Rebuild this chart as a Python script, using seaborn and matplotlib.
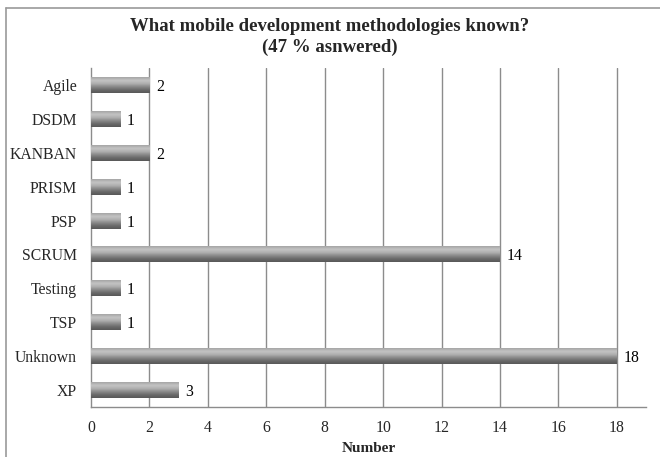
import numpy as np
import pandas as pd
import matplotlib
matplotlib.use("Agg")
import matplotlib.pyplot as plt
from matplotlib.colors import LinearSegmentedColormap
from matplotlib.lines import Line2D
import seaborn as sns

methods = ["Agile", "DSDM", "KANBAN", "PRISM", "PSP", "SCRUM",
           "Testing", "TSP", "Unknown", "XP"]
counts = [2, 1, 2, 1, 1, 14, 1, 1, 18, 3]
x_ticks = [0, 2, 4, 6, 8, 10, 12, 14, 16, 18]

df = pd.DataFrame({"method": methods, "count": counts})

sns.set_theme(style="white")
plt.rcParams["font.family"] = ["Liberation Serif", "DejaVu Serif"]

fig = plt.figure(figsize=(6.6, 4.57), dpi=100)
ax = fig.add_axes([91 / 660, 1 - 407 / 457, (646 - 91) / 660, (407 - 68) / 457])

sns.barplot(data=df, x="count", y="method", order=methods, orient="h",
            color="#888888", width=0.47, ax=ax, zorder=3)

# cylinder-style shading on each bar: light on top, dark underneath
shade = LinearSegmentedColormap.from_list(
    "shade", ["#a4a4a4", "#c4c4c4", "#b0b0b0", "#8a8a8a", "#6a6a6a", "#585858"])
grad = np.linspace(0, 1, 64).reshape(-1, 1)
for patch in ax.patches:
    x0, y0 = patch.get_x(), patch.get_y()
    w, h = patch.get_width(), patch.get_height()
    patch.set_facecolor("none")
    patch.set_edgecolor("none")
    # axis is inverted: y0 is the upper edge of the bar on screen
    im = ax.imshow(grad, cmap=shade, aspect="auto", origin="lower",
                   extent=(x0, x0 + w, y0, y0 + h), zorder=3,
                   interpolation="bicubic")
    im.set_clip_path(patch)

ax.set_xlim(0, 19)
ax.set_ylim(len(methods) - 0.5, -0.5)

for i, v in enumerate(counts):
    ax.text(v + 0.22, i, str(v), va="center_baseline", ha="left",
            fontsize=11.3, color="#000000", zorder=4)

ax.set_xticks(x_ticks)
ax.set_xticklabels([str(t) for t in x_ticks], fontsize=11.3)
ax.tick_params(axis="y", labelsize=11.3, length=0, pad=10)
ax.tick_params(axis="x", length=0, pad=9.5)
for g in x_ticks[1:]:
    ax.axvline(g, color="#8c8c8c", lw=1.0, zorder=1)

for side in ["top", "right"]:
    ax.spines[side].set_visible(False)
for side in ["left", "bottom"]:
    ax.spines[side].set_color("#8c8c8c")
    ax.spines[side].set_linewidth(1.0)

ax.set_xlabel("Number", fontsize=11, fontweight="bold", labelpad=4)
ax.set_ylabel("")

fig.text(0.5, 1 - 26.5 / 457, "What mobile development methodologies known?",
         ha="center", va="center", fontsize=13.5, fontweight="bold")
fig.text(0.5, 1 - 47 / 457, "(47 % asnwered)",
         ha="center", va="center", fontsize=13.5, fontweight="bold")

# chart frame
fig.add_artist(Line2D([6 / 660, 6 / 660], [0, 1 - 8 / 457],
                      transform=fig.transFigure, color="#9a9a9a", lw=1.2))
fig.add_artist(Line2D([6 / 660, 1], [1 - 8 / 457, 1 - 8 / 457],
                      transform=fig.transFigure, color="#9a9a9a", lw=1.2))

fig.savefig("out.png", dpi=100)
